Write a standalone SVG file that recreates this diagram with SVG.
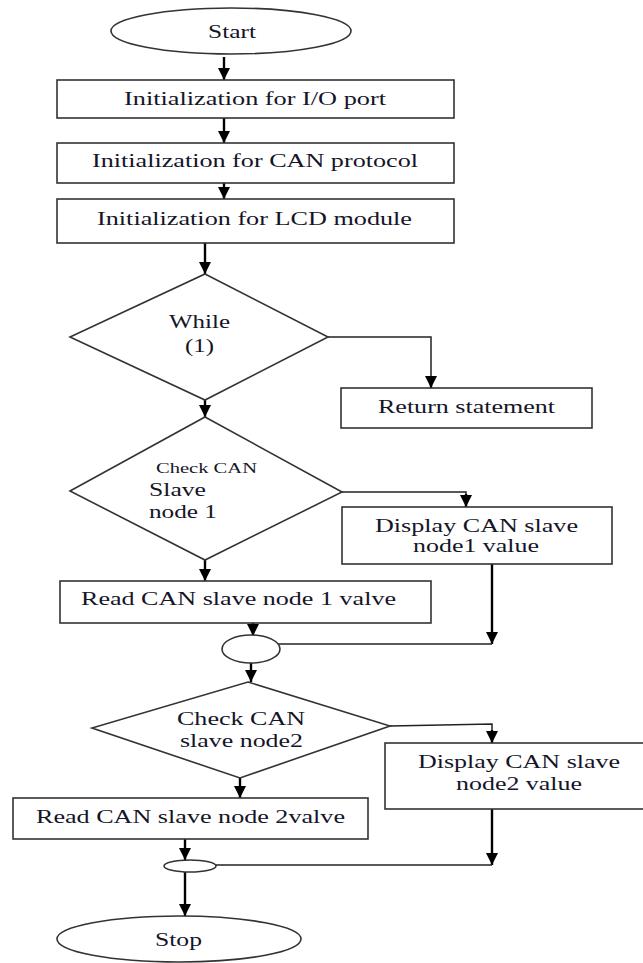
<svg xmlns="http://www.w3.org/2000/svg" width="643" height="963" viewBox="0 0 643 963">
<defs>
<marker id="ah" markerUnits="userSpaceOnUse" markerWidth="12" markerHeight="12" viewBox="0 0 12 12" refX="12" refY="6" orient="auto">
<path d="M0,0 L12,6 L0,12 Z" fill="#000"/>
</marker>
</defs>
<style>
.s{fill:#fff;stroke:#333;stroke-width:1.6}
.t{font-family:"Liberation Serif","Times New Roman",serif;font-size:19px;fill:#151528}
.a{fill:none;stroke:#000;stroke-width:2.4;marker-end:url(#ah)}
.l{fill:none;stroke:#222;stroke-width:1.5}
</style>
<rect width="643" height="963" fill="#fff"/>
<g id="connectors">
<line class="a" x1="224" y1="57" x2="224" y2="80"/>
<line class="a" x1="224" y1="118" x2="224" y2="143"/>
<line class="a" x1="224" y1="183" x2="224" y2="199"/>
<line class="a" x1="205" y1="243" x2="205" y2="274"/>
<polyline class="l" points="328,337 431,337 431,376"/>
<line class="a" x1="431" y1="376" x2="431" y2="388"/>
<line class="a" x1="205" y1="400" x2="205" y2="417"/>
<polyline class="l" points="342,492 466,492 466,496"/>
<line class="a" x1="466" y1="494" x2="466" y2="507"/>
<line class="a" x1="205" y1="560" x2="205" y2="581"/>
<line class="a" x1="253" y1="623" x2="253" y2="636"/>
<line class="a" x1="492" y1="564" x2="492" y2="644"/>
<line class="l" x1="278" y1="644" x2="492" y2="644"/>
<line class="a" x1="251" y1="663" x2="251" y2="682"/>
<polyline class="l" points="390,726 492,724 492,732"/>
<line class="a" x1="492" y1="730" x2="492" y2="743"/>
<line class="a" x1="240" y1="778" x2="240" y2="798"/>
<line class="a" x1="185" y1="839" x2="185" y2="860"/>
<line class="a" x1="492" y1="809" x2="492" y2="865"/>
<line class="l" x1="216" y1="865" x2="492" y2="865"/>
<line class="a" x1="185" y1="872" x2="185" y2="916"/>
</g>
<g id="start">
<ellipse class="s" cx="231" cy="31" rx="120" ry="23"/>
<text class="t" x="208" y="38" textLength="48" lengthAdjust="spacingAndGlyphs">Start</text>
</g>
<g id="init-io">
<rect class="s" x="57" y="80" width="397" height="38"/>
<text class="t" x="124" y="105" textLength="262" lengthAdjust="spacingAndGlyphs">Initialization for I/O port</text>
</g>
<g id="init-can">
<rect class="s" x="57" y="143" width="397" height="40"/>
<text class="t" x="92" y="167" textLength="326" lengthAdjust="spacingAndGlyphs">Initialization for CAN protocol</text>
</g>
<g id="init-lcd">
<rect class="s" x="57" y="199" width="397" height="44"/>
<text class="t" x="97" y="225" textLength="315" lengthAdjust="spacingAndGlyphs">Initialization for LCD module</text>
</g>
<g id="while">
<polygon class="s" points="205,274 328,337 205,400 70,337"/>
<text class="t" x="169" y="328" textLength="61" lengthAdjust="spacingAndGlyphs">While</text>
<text class="t" x="185" y="352" textLength="29" lengthAdjust="spacingAndGlyphs">(1)</text>
</g>
<g id="return">
<rect class="s" x="341" y="388" width="251" height="40"/>
<text class="t" x="378" y="413" textLength="177" lengthAdjust="spacingAndGlyphs">Return statement</text>
</g>
<g id="check1">
<polygon class="s" points="205,417 342,492 205,560 70,491"/>
<text class="t" x="156" y="473" style="font-size:15px" textLength="101" lengthAdjust="spacingAndGlyphs">Check CAN</text>
<text class="t" x="149" y="496" textLength="57" lengthAdjust="spacingAndGlyphs">Slave</text>
<text class="t" x="149" y="518" textLength="68" lengthAdjust="spacingAndGlyphs">node 1</text>
</g>
<g id="display1">
<rect class="s" x="342" y="507" width="270" height="57"/>
<text class="t" x="375" y="532" textLength="203" lengthAdjust="spacingAndGlyphs">Display CAN slave</text>
<text class="t" x="413" y="552" textLength="126" lengthAdjust="spacingAndGlyphs">node1 value</text>
</g>
<g id="read1">
<rect class="s" x="60" y="581" width="371" height="42"/>
<text class="t" x="81" y="605" textLength="315" lengthAdjust="spacingAndGlyphs">Read CAN slave node 1 valve</text>
</g>
<g id="join1">
<ellipse class="s" cx="251" cy="649" rx="29" ry="14"/>
</g>
<g id="check2">
<polygon class="s" points="248,682 390,726 240,778 92,728"/>
<text class="t" x="177" y="725" textLength="128" lengthAdjust="spacingAndGlyphs">Check CAN</text>
<text class="t" x="180" y="747" textLength="123" lengthAdjust="spacingAndGlyphs">slave node2</text>
</g>
<g id="display2">
<rect class="s" x="385" y="743" width="268" height="66"/>
<text class="t" x="418" y="768" textLength="202" lengthAdjust="spacingAndGlyphs">Display CAN slave</text>
<text class="t" x="456" y="790" textLength="126" lengthAdjust="spacingAndGlyphs">node2 value</text>
</g>
<g id="read2">
<rect class="s" x="13" y="798" width="355" height="41"/>
<text class="t" x="36" y="823" textLength="309" lengthAdjust="spacingAndGlyphs">Read CAN slave node 2valve</text>
</g>
<g id="join2">
<ellipse class="s" cx="190" cy="866" rx="26" ry="6"/>
</g>
<g id="stop">
<ellipse class="s" cx="179" cy="939" rx="122" ry="23"/>
<text class="t" x="155" y="946" textLength="47" lengthAdjust="spacingAndGlyphs">Stop</text>
</g>
</svg>
